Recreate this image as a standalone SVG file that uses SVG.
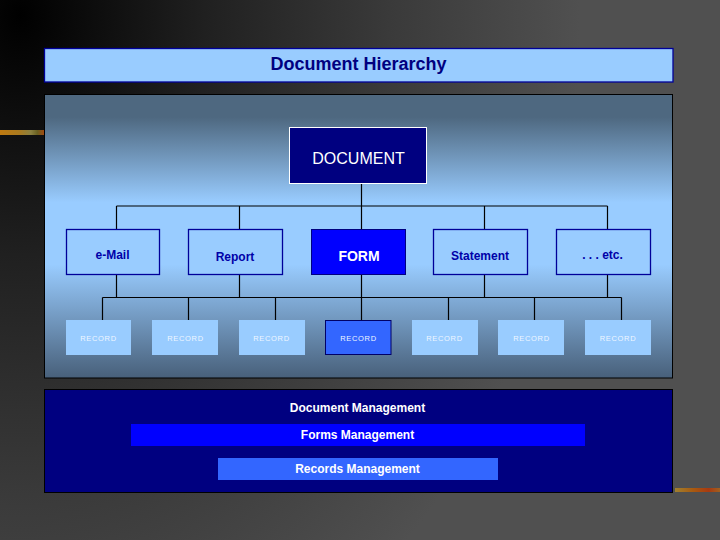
<svg xmlns="http://www.w3.org/2000/svg" width="720" height="540" viewBox="0 0 720 540">
<style>
text{font-family:"Liberation Sans",Arial,sans-serif;text-anchor:middle}
.n{fill:#99ccff;stroke:#000099;stroke-width:1.3}
.nt{fill:#0000a8;font-size:12px;font-weight:bold}
.r{fill:#99ccff}
.rt{fill:#eef6ff;font-size:7.5px;letter-spacing:.65px}
.wt{fill:#fff;font-size:12px;font-weight:bold}
.c{stroke:#000;stroke-width:1.2;fill:none}
</style>
<defs>
<radialGradient id="bg" gradientUnits="userSpaceOnUse" cx="0" cy="0" r="560" gradientTransform="translate(20 15) scale(1 1.3)">
<stop offset="0" stop-color="#000"/><stop offset=".33" stop-color="#202020"/><stop offset=".66" stop-color="#3a3a3a"/><stop offset="1" stop-color="#505050"/>
</radialGradient>
<linearGradient id="panel" x1="0" y1="0" x2="0" y2="1">
<stop offset="0" stop-color="#4e6880"/><stop offset=".08" stop-color="#4e6880"/><stop offset=".38" stop-color="#99ccff"/><stop offset=".6" stop-color="#99ccff"/><stop offset="1" stop-color="#48607a"/>
</linearGradient>
<linearGradient id="t1">
<stop offset="0" stop-color="#c07a10"/><stop offset=".45" stop-color="#a87a20"/><stop offset=".7" stop-color="#8a8040"/><stop offset=".85" stop-color="#6a6020"/><stop offset="1" stop-color="#a04a10"/>
</linearGradient>
<linearGradient id="t2">
<stop offset="0" stop-color="#a08030"/><stop offset=".4" stop-color="#a85a10"/><stop offset=".75" stop-color="#a83a10"/><stop offset="1" stop-color="#a06020"/>
</linearGradient>
</defs>
<rect width="720" height="540" fill="url(#bg)"/>
<rect x="0" y="130" width="44" height="5" fill="url(#t1)"/>
<rect x="675" y="488" width="45" height="4" fill="url(#t2)"/>
<g id="title"><rect x="44.5" y="48.5" width="628.5" height="33.5" fill="#99ccff" stroke="#000099" stroke-width="1.3"/>
<text x="358.500" y="69.500" fill="#000080" style="font-size:18px;font-weight:bold">Document Hierarchy</text></g>
<rect id="panel-bg" x="44.5" y="94.5" width="628" height="283.5" fill="url(#panel)" stroke="#000" stroke-width="1"/>
<g id="connectors" class="c">
<path d="M116.5 206H607.5M116.5 206V229M239.5 206V229M361.5 183V229M484.5 206V229M607.5 206V229"/>
<path d="M102.5 297.500H621.500M116.500 275V297.500M239.500 275V297.500M361.500 275V297.500M484.500 275V297.500M607.500 275V297.500"/>
<path d="M102.500 297.500V320M188.500 297.500V320M275.500 297.500V320M361.500 297.500V320M448.500 297.500V320M534.500 297.500V320M621.500 297.500V320"/>
</g>
<g id="document"><rect x="289.500" y="127.500" width="137" height="56" fill="#000080" stroke="#fff" stroke-width="1"/>
<text x="358.500" y="163.500" fill="#fff" style="font-size:16px">DOCUMENT</text></g>
<g id="email"><rect class="n" x="66.500" y="229.500" width="93" height="45"/><text class="nt" x="112.500" y="258.500">e-Mail</text></g>
<g id="report"><rect class="n" x="188.500" y="229.500" width="94" height="45"/><text class="nt" x="235" y="260.500">Report</text></g>
<g id="form"><rect x="311.500" y="229.500" width="94" height="45" fill="#0000ff" stroke="#000080" stroke-width="1"/><text x="359" y="260.500" fill="#fff" style="font-size:14px;font-weight:bold">FORM</text></g>
<g id="statement"><rect class="n" x="433.500" y="229.500" width="94" height="45"/><text class="nt" x="480" y="259.500">Statement</text></g>
<g id="etc"><rect class="n" x="556.500" y="229.500" width="94" height="45"/><text class="nt" x="602.500" y="258.500">. . . etc.</text></g>
<g id="record1"><rect class="r" x="66" y="320" width="65" height="35"/><text class="rt" x="98.500" y="341">RECORD</text></g>
<g id="record2"><rect class="r" x="152" y="320" width="66" height="35"/><text class="rt" x="185.500" y="341">RECORD</text></g>
<g id="record3"><rect class="r" x="239" y="320" width="66" height="35"/><text class="rt" x="271.500" y="341">RECORD</text></g>
<g id="record4"><rect x="325.500" y="320.500" width="65.500" height="34" fill="#3366ff" stroke="#000066" stroke-width="1"/><text class="rt" x="358.500" y="341">RECORD</text></g>
<g id="record5"><rect class="r" x="412" y="320" width="66" height="35"/><text class="rt" x="444.500" y="341">RECORD</text></g>
<g id="record6"><rect class="r" x="498" y="320" width="66" height="35"/><text class="rt" x="531.500" y="341">RECORD</text></g>
<g id="record7"><rect class="r" x="585" y="320" width="66" height="35"/><text class="rt" x="618" y="341">RECORD</text></g>
<g id="document-management"><rect x="44.500" y="389.500" width="628" height="103" fill="#000080" stroke="#000" stroke-width="1"/><text class="wt" x="357.500" y="412">Document Management</text></g>
<g id="forms-management"><rect x="131" y="424" width="454" height="22" fill="#0000ff"/><text class="wt" x="357.500" y="439">Forms Management</text></g>
<g id="records-management"><rect x="218" y="458" width="280" height="22" fill="#3366ff"/><text class="wt" x="357.500" y="473">Records Management</text></g>
</svg>
